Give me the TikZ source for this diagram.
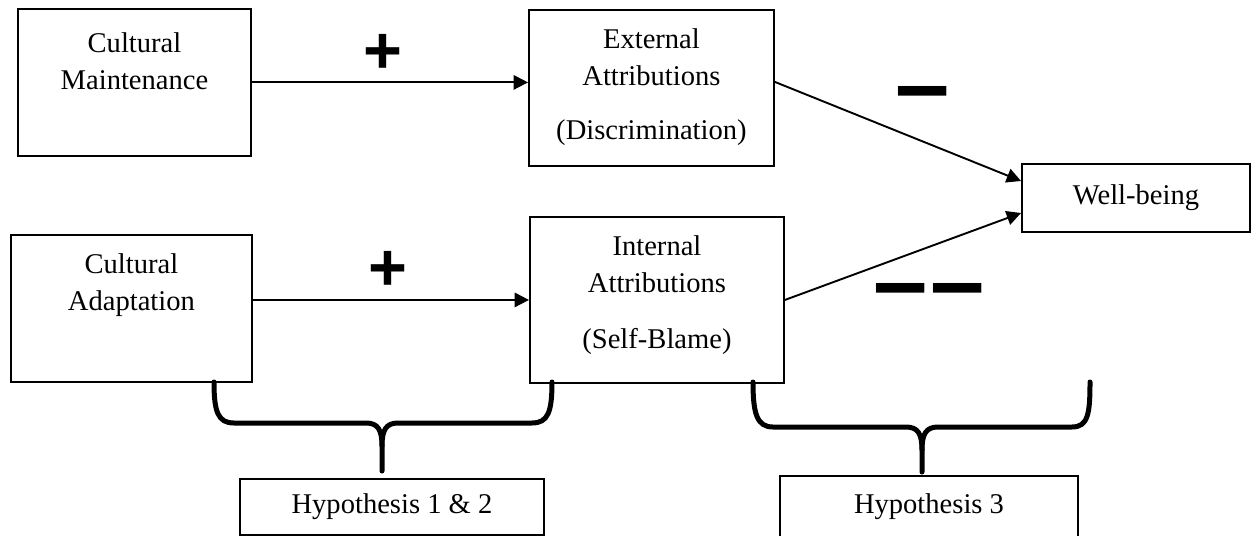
\documentclass[tikz,border=0pt]{standalone}
\usepackage{fontspec}
\setmainfont{Liberation Serif}
\newfontfamily\signfont{Liberation Sans}
\usetikzlibrary{arrows.meta,calc}

% box with its text set at the top
\newcommand{\topbox}[4]{\parbox[c][#2][t]{#1}{\centering\vspace*{#3}#4}}

\tikzset{
  factor/.style={draw, line width=0.8pt, inner sep=0pt, anchor=north west,
    font=\fontsize{12}{15.5}\selectfont},
  link/.style={-{Triangle[length=6pt,width=6pt]}, line width=0.8pt},
  hbrace/.style={line width=2.1pt, line cap=round, line join=round},
  plussign/.style={font=\signfont\bfseries\fontsize{28}{28}\selectfont, inner sep=0pt, anchor=base},
  minussign/.style={font=\signfont\bfseries\fontsize{41}{41}\selectfont, inner sep=0pt, anchor=base}
}

\begin{document}
\begin{tikzpicture}[x=0.42pt, y=-0.42pt]
  \useasboundingbox (0,0) rectangle (1253,535);

  % the four factors
  \node[factor] (cm) at (17,8) {\topbox{97.9pt}{61.7pt}{10pt}{Cultural\\Maintenance}};
  \node[factor] (ea) at (528,9) {\topbox{102.9pt}{65.5pt}{8pt}{External\\Attributions\\[7pt](Discrimination)}};
  \node[factor] (ca) at (10,234) {\topbox{101.2pt}{61.7pt}{8pt}{Cultural\\Adaptation}};
  \node[factor] (ia) at (529,216) {\topbox{106.7pt}{69.7pt}{8pt}{Internal\\Attributions\\[8pt](Self-Blame)}};
  \node[factor, minimum width=95.8pt, minimum height=28.6pt] (wb) at (1021,163) {Well-being};

  % hypotheses
  \node[factor, minimum width=127.7pt, minimum height=23.5pt] (h12) at (239,478) {Hypothesis 1 \& 2};
  \node[factor, minimum width=125.2pt, minimum height=26pt, yshift=1.3pt] (h3) at (779,478) {Hypothesis 3};

  % paths
  \draw[link] (cm.east) -- (cm.east -| ea.west);
  \draw[link] (ia.west -| ca.east) -- (ia.west);
  \draw[link] ($(ea.east)+(0,-6)$) -- ($(wb.west)+(0,-17)$);
  \draw[link] (ia.east) -- ($(wb.west)+(0,15)$);

  % signs
  \node[plussign] (plusA) at (383,73) {+};
  \node[plussign] (plusB) at (388,290) {+};
  \node[minussign] (minusA) at (923,117) {–};
  \node[minussign] (minusB) at (929,314) {–\kern1.3pt–};

  % braces
  \draw[hbrace] (214,382) .. controls (214,412) and (218,423) .. (234,423) -- (366,423)
    .. controls (378,423) and (382,430) .. (382,446) -- (382,471);
  \draw[hbrace] (382,446) .. controls (382,430) and (386,423) .. (398,423) -- (532,423)
    .. controls (548,423) and (552,412) .. (552,382);
  \draw[hbrace] (753,382) .. controls (753,414) and (757,427) .. (773,427) -- (906,427)
    .. controls (918,427) and (922,434) .. (922,450) -- (922,472);
  \draw[hbrace] (922,450) .. controls (922,434) and (926,427) .. (938,427) -- (1072,427)
    .. controls (1088,427) and (1090,414) .. (1090,382);
\end{tikzpicture}
\end{document}
